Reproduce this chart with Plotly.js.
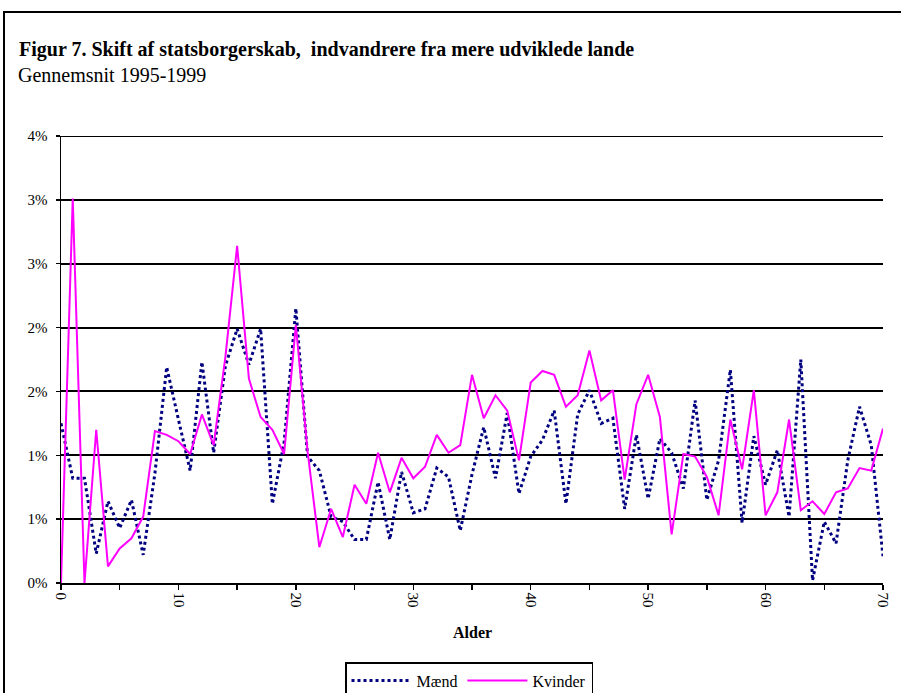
<!DOCTYPE html>
<html>
<head>
<meta charset="utf-8">
<script src="https://cdn.plot.ly/plotly-3.0.1.min.js"></script>
<style>html,body{margin:0;padding:0;background:#fff;}#chart{width:901px;height:693px;}</style>
</head>
<body>
<div id="chart"></div>
<script>
// Ages (x axis)
const ages = [];
for (let a = 0; a <= 70; a++) ages.push(a);

// Share changing citizenship, per cent
const maend = [1.25,0.82,0.82,0.23,0.64,0.43,0.65,0.22,0.86,1.69,
  1.28,0.88,1.73,1.02,1.70,1.99,1.71,1.99,0.62,1.10,
  2.15,0.99,0.88,0.52,0.48,0.34,0.34,0.79,0.34,0.87,
  0.55,0.58,0.90,0.83,0.41,0.85,1.22,0.82,1.33,0.70,
  0.99,1.12,1.35,0.62,1.32,1.51,1.25,1.29,0.58,1.16,
  0.66,1.13,1.02,0.74,1.43,0.65,0.96,1.67,0.47,1.15,
  0.77,1.04,0.52,1.75,0.02,0.48,0.31,0.96,1.38,1.08,
  0.21];
const kvinder = [0,3.01,0,1.20,0.13,0.27,0.35,0.52,1.19,1.16,
  1.11,1.01,1.32,1.08,1.77,2.64,1.60,1.30,1.20,1.01,
  2.02,1.03,0.28,0.58,0.36,0.77,0.62,1.02,0.71,0.98,
  0.82,0.91,1.16,1.02,1.08,1.63,1.29,1.47,1.35,0.96,
  1.57,1.66,1.63,1.38,1.47,1.82,1.43,1.51,0.81,1.40,
  1.63,1.30,0.38,1.01,0.99,0.83,0.53,1.28,0.89,1.51,
  0.53,0.71,1.28,0.57,0.64,0.54,0.71,0.74,0.90,0.88,
  1.21];

const yTickVals = [0,0.5,1,1.5,2,2.5,3,3.5];
const yTickText = ['0%','1%','1%','2%','2%','3%','3%','4%'];
const xTickVals = [0,5,10,15,20,25,30,35,40,45,50,55,60,65,70];
const xTickText = ['0','','10','','20','','30','','40','','50','','60','','70'];

const serif = '"Liberation Serif"';

const traces = [
  {x: ages, y: maend, name: 'Mænd', type: 'scatter', mode: 'lines',
   line: {color: '#000080', width: 3, dash: '3px,3px'}},
  {x: ages, y: kvinder, name: 'Kvinder', type: 'scatter', mode: 'lines',
   line: {color: '#FF00FF', width: 2}}
];

const L = 61, R = 883, T = 136, B = 583;
const px = v => (v - L) / (R - L);
const py = v => (B - v) / (B - T);

const layout = {
  width: 901, height: 693,
  margin: {l: L, r: 901 - R, t: T, b: 693 - B, pad: 0, autoexpand: false},
  paper_bgcolor: '#fff', plot_bgcolor: '#fff',
  font: {family: serif, size: 14, color: '#000'},
  title: {text: '<b>Figur 7. Skift af statsborgerskab,  indvandrere fra mere udviklede lande</b>',
    font: {family: serif, size: 20, color: '#000'},
    xref: 'container', yref: 'container', x: 19/901, xanchor: 'left',
    y: 1 - 49/693, yanchor: 'middle'},
  annotations: [
    {text: 'Gennemsnit 1995-1999', xref: 'paper', yref: 'paper',
     x: px(16), y: py(75), xanchor: 'left', yanchor: 'middle', showarrow: false,
     font: {family: serif, size: 20, color: '#000'}},
    {text: '<b>Alder</b>', xref: 'paper', yref: 'paper',
     x: 0.5, y: py(632), xanchor: 'center', yanchor: 'middle', showarrow: false,
     font: {family: serif, size: 16, color: '#000'}}
  ],
  xaxis: {range: [0, 70], tickmode: 'array', tickvals: xTickVals, ticktext: xTickText,
    tickangle: 90, ticks: 'outside', ticklen: 5, tickwidth: 1.5, tickcolor: '#000',
    showline: true, linecolor: '#000', linewidth: 1.5, showgrid: false, zeroline: false,
    tickfont: {family: serif, size: 15, color: '#000'}, automargin: false,
    fixedrange: true},
  yaxis: {range: [0, 3.5], tickmode: 'array', tickvals: yTickVals, ticktext: yTickText,
    ticks: 'outside', ticklen: 4, tickwidth: 1.5, tickcolor: '#000',
    showline: true, linecolor: '#000', linewidth: 1.5, ticklabelstandoff: 5,
    showgrid: true, gridcolor: '#000', gridwidth: 2, zeroline: false, automargin: false,
    tickfont: {family: serif, size: 15, color: '#000'}, fixedrange: true},
  showlegend: true,
  legend: {orientation: 'h', x: px(345), y: py(662), xanchor: 'left', yanchor: 'top',
    bordercolor: '#000', borderwidth: 1.5, bgcolor: '#fff',
    font: {family: serif, size: 16, color: '#000'}, itemwidth: 60, traceorder: 'normal'},
  shapes: [
    {type: 'rect', xref: 'paper', yref: 'paper', x0: px(4), x1: px(910), y0: py(12), y1: py(720),
     line: {color: '#000', width: 2}, fillcolor: 'rgba(0,0,0,0)', layer: 'below'},
    {type: 'line', xref: 'paper', yref: 'y', x0: 0, x1: 1, y0: 3.5, y1: 3.5,
     line: {color: '#000', width: 2}, layer: 'below'}
  ]
};

Plotly.newPlot('chart', traces, layout, {displayModeBar: false, staticPlot: true});
</script>
</body>
</html>
